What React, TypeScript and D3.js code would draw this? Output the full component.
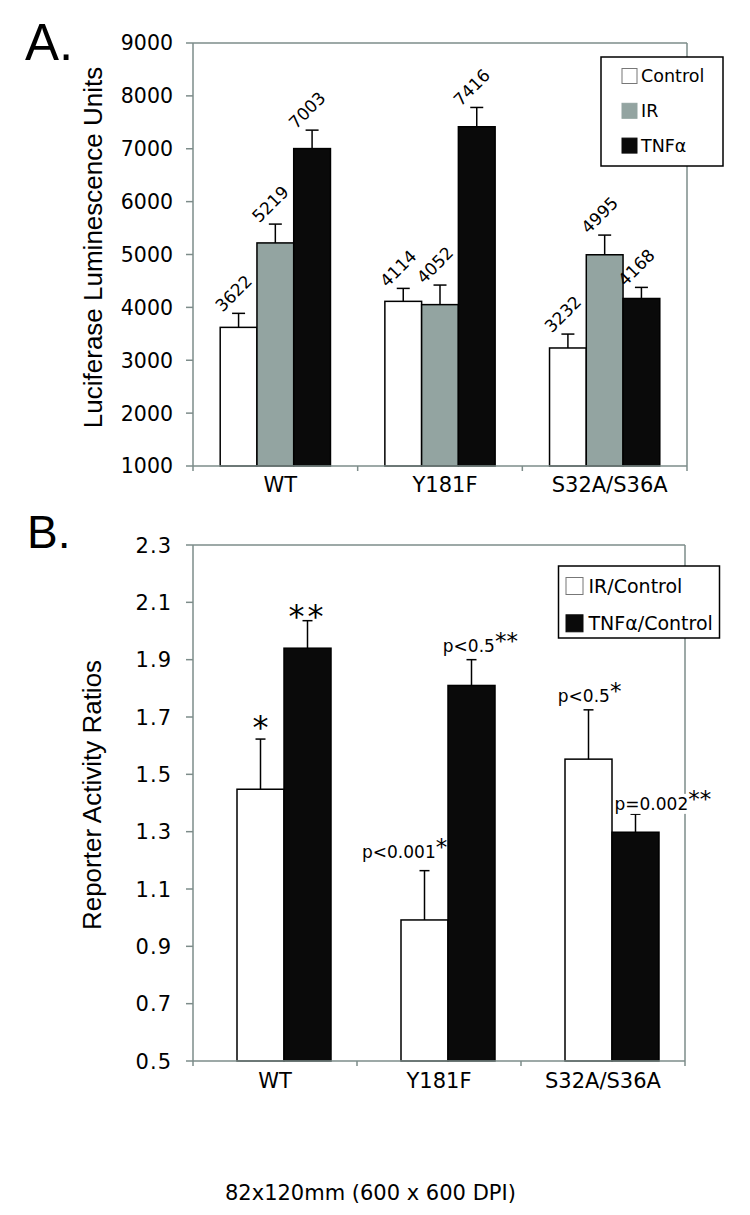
import React from "react";
import * as d3 from "d3";

// ---------- Data ----------
const categories = ["WT", "Y181F", "S32A/S36A"];

const seriesA = ["Control", "IR", "TNFα"];
const controlA = [3622, 4114, 3232];
const irA = [5219, 4052, 4995];
const tnfA = [7003, 7416, 4168];
const controlErrA = [265, 245, 263];
const irErrA = [356, 370, 372];
const tnfErrA = [349, 365, 210];
const yTicksA = [1000, 2000, 3000, 4000, 5000, 6000, 7000, 8000, 9000];

const seriesB = ["IR/Control", "TNFα/Control"];
const irRatio = [1.448, 0.992, 1.553];
const tnfRatio = [1.94, 1.81, 1.298];
const irRatioErr = [0.175, 0.172, 0.172];
const tnfRatioErr = [0.096, 0.09, 0.063];
const irNoteText = ["", "p<0.001", "p<0.5"];
const irNoteStar = ["*", "*", "*"];
const tnfNoteText = ["", "p<0.5", "p=0.002"];
const tnfNoteStar = ["**", "**", "**"];
const yTicksB = [0.5, 0.7, 0.9, 1.1, 1.3, 1.5, 1.7, 1.9, 2.1, 2.3];

// ---------- Styles ----------
const AXIS = "#7d8c8a";
const GRAY = "#93a4a1";
const BLACK = "#0a0a0a";
const VERD = "'DejaVu Sans', Verdana, sans-serif";
const ARIAL = "'Liberation Sans', Arial, sans-serif";

// note placement (dx from bar center, dy from error top) [series][category]
const noteLayout = [
  [{ dx: 0, dy: -1 }, { dx: -62.5, dy: -12.7 }, { dx: -30.7, dy: -8.3 }],
  [{ dx: 0, dy: 6 }, { dx: -28.7, dy: -7.3 }, { dx: -21, dy: -4.3 }],
];

function ErrBar({ x, y0, y1, cap }: { x: number; y0: number; y1: number; cap: number }) {
  return (
    <g stroke="#000" strokeWidth={1.5}>
      <line x1={x} x2={x} y1={y0} y2={y1} />
      <line x1={x - cap / 2} x2={x + cap / 2} y1={y1} y2={y1} />
    </g>
  );
}

function PanelA() {
  const left = 193, right = 687, top = 43, bottom = 466;
  const x = d3.scaleBand<string>().domain(categories).range([left, right]).padding(0);
  const bw = x.bandwidth();
  const inner = d3.scaleBand<string>().domain(seriesA).range([0, bw]).paddingInner(0).paddingOuter(0.74);
  const y = d3.scaleLinear().domain([1000, 9000]).range([bottom, top]);
  const vals = [controlA, irA, tnfA];
  const errs = [controlErrA, irErrA, tnfErrA];
  const fills = ["#ffffff", GRAY, BLACK];
  return (
    <g>
      <text x={25} y={60} fontFamily={ARIAL} fontSize={51}>A.</text>
      <line x1={left} x2={right} y1={top} y2={top} stroke={AXIS} strokeWidth={1.5} />
      <line x1={right} x2={right} y1={top} y2={bottom} stroke={AXIS} strokeWidth={1.5} />
      {seriesA.map((s, si) =>
        categories.map((c, ci) => {
          const bx = (x(c) as number) + (inner(s) as number);
          const v = vals[si][ci];
          return (
            <rect key={s + c} x={bx} y={y(v)} width={inner.bandwidth()} height={bottom - y(v)}
              fill={fills[si]} stroke="#000" strokeWidth={1.5} />
          );
        })
      )}
      {seriesA.map((s, si) =>
        categories.map((c, ci) => {
          const cx = (x(c) as number) + (inner(s) as number) + inner.bandwidth() / 2;
          const v = vals[si][ci];
          const et = y(v + errs[si][ci]);
          return (
            <g key={"e" + s + c}>
              <ErrBar x={cx} y0={y(v)} y1={et} cap={13} />
              <text transform={`translate(${cx - 5},${et - 20}) rotate(-45)`} textAnchor="middle"
                dy="0.35em" fontFamily={VERD} fontSize={17}>{v}</text>
            </g>
          );
        })
      )}
      <line x1={left} x2={left} y1={top} y2={bottom} stroke={AXIS} strokeWidth={1.5} />
      <line x1={left} x2={right} y1={bottom} y2={bottom} stroke={AXIS} strokeWidth={1.5} />
      {yTicksA.map((t) => (
        <g key={t}>
          <line x1={left - 7} x2={left} y1={y(t)} y2={y(t)} stroke={AXIS} strokeWidth={1.5} />
          <text x={173} y={y(t)} dy="0.36em" textAnchor="end" fontFamily={VERD} fontSize={20.5}>{t}</text>
        </g>
      ))}
      {[...categories.map((c) => x(c) as number), right].map((p, i) => (
        <line key={i} x1={p} x2={p} y1={bottom} y2={bottom + 5} stroke={AXIS} strokeWidth={1.5} />
      ))}
      {categories.map((c) => (
        <text key={c} x={(x(c) as number) + bw / 2 + 5} y={492} textAnchor="middle" fontFamily={VERD} fontSize={21}>{c}</text>
      ))}
      <text transform={`translate(102,${(top + bottom) / 2 - 7}) rotate(-90)`} textAnchor="middle"
        fontFamily={ARIAL} fontSize={26}>Luciferase Luminescence Units</text>
      <rect x={601} y={57} width={122} height={109} fill="#fff" stroke="#000" strokeWidth={1.5} />
      {seriesA.map((s, i) => {
        const cy = 76 + i * 34.8;
        return (
          <g key={s}>
            <rect x={622} y={cy - 7.5} width={15} height={15} fill={fills[i]}
              stroke={i === 0 ? "#777" : i === 1 ? GRAY : BLACK} strokeWidth={1} />
            <text x={641} y={cy} dy="0.36em" fontFamily={VERD} fontSize={17.5}>{s}</text>
          </g>
        );
      })}
    </g>
  );
}

function PanelB() {
  const left = 193, right = 685, top = 545, bottom = 1061;
  const x = d3.scaleBand<string>().domain(categories).range([left, right]).padding(0);
  const bw = x.bandwidth();
  const inner = d3.scaleBand<string>().domain(seriesB).range([44, bw - 26]).padding(0);
  const y = d3.scaleLinear().domain([0.5, 2.3]).range([bottom, top]);
  const vals = [irRatio, tnfRatio];
  const errs = [irRatioErr, tnfRatioErr];
  const texts = [irNoteText, tnfNoteText];
  const stars = [irNoteStar, tnfNoteStar];
  const fills = ["#ffffff", BLACK];
  return (
    <g>
      <text x={27} y={548} fontFamily={ARIAL} fontSize={46}>B.</text>
      <line x1={left} x2={right} y1={top} y2={top} stroke={AXIS} strokeWidth={1.5} />
      <line x1={right} x2={right} y1={top} y2={bottom} stroke={AXIS} strokeWidth={1.5} />
      {seriesB.map((s, si) =>
        categories.map((c, ci) => {
          const bx = (x(c) as number) + (inner(s) as number);
          const v = vals[si][ci];
          return (
            <rect key={s + c} x={bx} y={y(v)} width={inner.bandwidth()} height={bottom - y(v)}
              fill={fills[si]} stroke="#000" strokeWidth={1.5} />
          );
        })
      )}
      {seriesB.map((s, si) =>
        categories.map((c, ci) => {
          const cx = (x(c) as number) + (inner(s) as number) + inner.bandwidth() / 2;
          const v = vals[si][ci];
          const et = y(v + errs[si][ci]);
          const lay = noteLayout[si][ci];
          const t = texts[si][ci];
          return (
            <g key={"e" + s + c}>
              <ErrBar x={cx} y0={y(v)} y1={et} cap={10} />
              {t === "" ? (
                <text x={cx + lay.dx} y={et + lay.dy} textAnchor="middle" fontFamily={VERD}
                  fontSize={32} letterSpacing={si === 1 ? 3 : 0}>{stars[si][ci]}</text>
              ) : (
                <g>
                  {si === 1 && ci === 2 ? (
                    <rect x={cx + lay.dx} y={et + lay.dy - 16} width={98} height={20} fill="#fff" />
                  ) : null}
                  <text x={cx + lay.dx} y={et + lay.dy} fontFamily={VERD} fontSize={17}>
                    {t}
                    <tspan fontSize={23} dy={-3}>{stars[si][ci]}</tspan>
                  </text>
                </g>
              )}
            </g>
          );
        })
      )}
      <line x1={left} x2={left} y1={top} y2={bottom} stroke={AXIS} strokeWidth={1.5} />
      <line x1={left} x2={right} y1={bottom} y2={bottom} stroke={AXIS} strokeWidth={1.5} />
      {yTicksB.map((t) => (
        <g key={t}>
          <line x1={left - 7} x2={left} y1={y(t)} y2={y(t)} stroke={AXIS} strokeWidth={1.5} />
          <text x={172} y={y(t)} dy="0.36em" textAnchor="end" fontFamily={VERD} fontSize={21}
            letterSpacing={1}>{d3.format(".1f")(t)}</text>
        </g>
      ))}
      {[...categories.map((c) => x(c) as number), right].map((p, i) => (
        <line key={i} x1={p} x2={p} y1={bottom} y2={bottom + 5} stroke={AXIS} strokeWidth={1.5} />
      ))}
      {categories.map((c) => (
        <text key={c} x={(x(c) as number) + bw / 2} y={1088} textAnchor="middle" fontFamily={VERD} fontSize={21}>{c}</text>
      ))}
      <text transform={`translate(101,${(top + bottom) / 2 - 8}) rotate(-90)`} textAnchor="middle"
        fontFamily={ARIAL} fontSize={26}>Reporter Activity Ratios</text>
      <rect x={558.5} y={566} width={161} height={72} fill="#fff" stroke="#000" strokeWidth={1.5} />
      {seriesB.map((s, i) => {
        const cy = 586 + i * 37.3;
        return (
          <g key={s}>
            <rect x={566} y={cy - 8.5} width={17} height={17} fill={fills[i]}
              stroke={i === 0 ? "#777" : BLACK} strokeWidth={1} />
            <text x={588.5} y={cy} dy="0.36em" fontFamily={VERD} fontSize={19}>{s}</text>
          </g>
        );
      })}
    </g>
  );
}

export default function App() {
  return (
    <svg width={750} height={1215} viewBox="0 0 750 1215"
      style={{ position: "absolute", left: 0, top: 0, display: "block", background: "#fff" }}>
      <rect width={750} height={1215} fill="#fff" />
      <PanelA />
      <PanelB />
      <text x={225} y={1200} fontFamily={VERD} fontSize={21}>82x120mm (600 x 600 DPI)</text>
    </svg>
  );
}
